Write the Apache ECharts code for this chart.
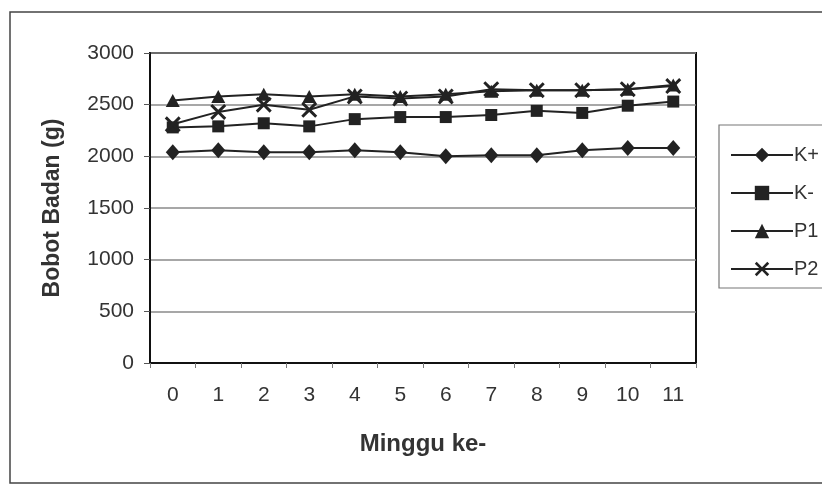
<!DOCTYPE html>
<html>
<head>
<meta charset="utf-8">
<script src="https://cdn.jsdelivr.net/npm/echarts@6/dist/echarts.min.js"></script>
<style>
html,body{margin:0;padding:0;background:#fff;}
#chart{width:822px;height:484px;}
</style>
</head>
<body>
<div id="chart"></div>
<script>
const categories = ['0','1','2','3','4','5','6','7','8','9','10','11'];
const kPlus  = [2040, 2060, 2040, 2040, 2060, 2040, 2000, 2010, 2010, 2060, 2080, 2080];
const kMinus = [2280, 2290, 2320, 2290, 2360, 2380, 2380, 2400, 2440, 2420, 2490, 2530];
const p1     = [2540, 2580, 2600, 2580, 2600, 2580, 2600, 2630, 2640, 2640, 2650, 2690];
const p2     = [2310, 2430, 2500, 2450, 2580, 2560, 2580, 2650, 2640, 2640, 2650, 2680];
const yTicks = [0, 500, 1000, 1500, 2000, 2500, 3000];

const ink = '#222';
const xPath = 'path://M0,1.3 L1.3,0 L5,3.7 L8.7,0 L10,1.3 L6.3,5 L10,8.7 L8.7,10 L5,6.3 L1.3,10 L0,8.7 L3.7,5 Z';
const font = '"Liberation Sans", Arial, sans-serif';

function mk(name, data, symbol, size) {
  return {
    name, type: 'line', data, symbol, symbolSize: size,
    showAllSymbol: true,
    lineStyle: {color: ink, width: 2},
    itemStyle: {color: ink, borderWidth: 0},
    emphasis: {disabled: true},
    animation: false
  };
}

const chart = echarts.init(document.getElementById('chart'));
chart.setOption({
  backgroundColor: '#fff',
  animation: false,
  graphic: [
    {type: 'rect', shape: {x: 10, y: 12, width: 830, height: 471}, style: {fill: 'none', stroke: '#444', lineWidth: 1.5}, silent: true, z: 0},
    {type: 'rect', shape: {x: 719, y: 125, width: 120, height: 163}, style: {fill: 'none', stroke: '#777', lineWidth: 1.2}, silent: true, z: 0}
  ],
  grid: {left: 150, right: 126, top: 53, bottom: 121, show: true, borderColor: '#111', borderWidth: 2, backgroundColor: 'transparent'},
  legend: {
    orient: 'vertical', left: 725, top: 140,
    itemWidth: 62, itemHeight: 18, itemGap: 18,
    textStyle: {fontFamily: font, fontSize: 20, color: '#333', padding: [0,0,0,-4]},
    data: ['K+', 'K-', 'P1', 'P2']
  },
  xAxis: {
    type: 'category', data: categories, boundaryGap: true,
    name: 'Minggu ke-', nameLocation: 'middle', nameGap: 69,
    nameTextStyle: {fontFamily: font, fontSize: 24, fontWeight: 'bold', color: '#333'},
    axisLine: {show: true, lineStyle: {color: '#111', width: 2}},
    axisTick: {show: true, length: 5, lineStyle: {color: '#777'}},
    axisLabel: {fontFamily: font, fontSize: 21, color: '#333', margin: 22}
  },
  yAxis: {
    type: 'value', min: yTicks[0], max: yTicks[yTicks.length-1], interval: 500,
    name: 'Bobot Badan (g)', nameLocation: 'middle', nameGap: 86,
    nameTextStyle: {fontFamily: font, fontSize: 23, fontWeight: 'bold', color: '#333'},
    axisLine: {show: true, lineStyle: {color: '#111', width: 2}},
    axisTick: {show: true, length: 6, lineStyle: {color: '#555'}},
    axisLabel: {fontFamily: font, fontSize: 21, color: '#333', margin: 16, formatter: v => String(v)},
    splitLine: {show: true, lineStyle: {color: '#8a8a8a', width: 1.5}}
  },
  series: [
    mk('K+', kPlus, 'diamond', [14, 16]),
    mk('K-', kMinus, 'rect', 12),
    mk('P1', p1, 'triangle', [14, 13]),
    mk('P2', p2, xPath, 16)
  ]
});
</script>
</body>
</html>
